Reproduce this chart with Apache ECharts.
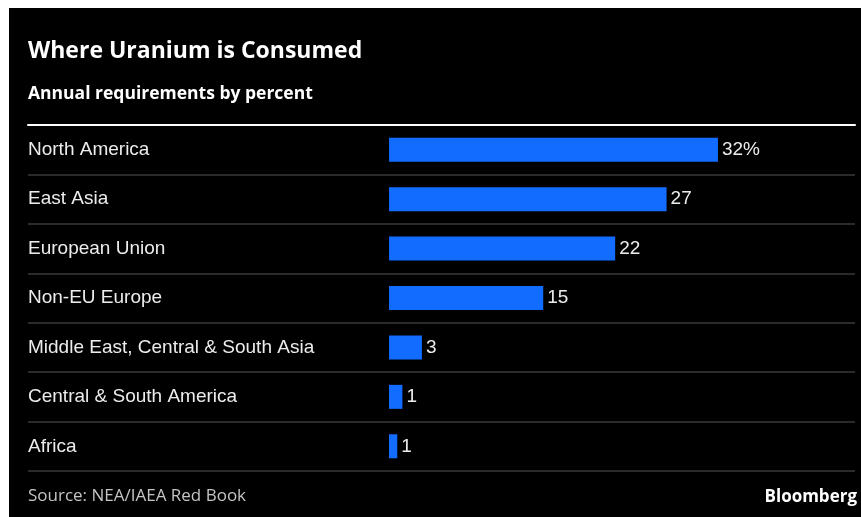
<!DOCTYPE html>
<html>
<head>
<meta charset="utf-8">
<script src="https://cdn.jsdelivr.net/npm/echarts@6/dist/echarts.min.js"></script>
<style>
  html, body { margin: 0; padding: 0; background: #000; }
  #chart { width: 861px; height: 517px; }
</style>
</head>
<body>
<div id="chart"></div>
<script>
const categories = ['North America', 'East Asia', 'European Union', 'Non-EU Europe', 'Middle East, Central & South Asia', 'Central & South America', 'Africa'];
const shares = [32, 27, 22, 15, 3.2, 1.3, 0.8];
const valueLabels = ['32%', '27', '22', '15', '3', '1', '1'];

const chart = echarts.init(document.getElementById('chart'));
chart.setOption({
  backgroundColor: '#000',
  animation: false,
  title: [
    { text: 'Where Uranium is Consumed', left: 28, top: 40, padding: 0,
      textStyle: { color: '#fff', fontFamily: 'Open Sans', fontWeight: 'bold', fontSize: 23 } },
    { text: 'Annual requirements by percent', left: 28, top: 85, padding: 0,
      textStyle: { color: '#fff', fontFamily: 'Open Sans', fontWeight: 'bold', fontSize: 17.5 } },
    { text: 'Source: NEA/IAEA Red Book', left: 28, top: 488, padding: 0,
      textStyle: { color: '#c4c4c4', fontFamily: 'Open Sans', fontWeight: 'normal', fontSize: 17 } },
    { text: 'Bloomberg', right: 4, top: 489, padding: 0,
      textStyle: { color: '#fff', fontFamily: 'Open Sans', fontWeight: 'bold', fontSize: 17 } }
  ],
  graphic: [
    { type: 'rect', z: 100, shape: { x: 0, y: 0, width: 861, height: 8 }, style: { fill: '#fff' } },
    { type: 'rect', z: 100, shape: { x: 0, y: 0, width: 9, height: 517 }, style: { fill: '#fff' } }
  ],
  grid: { left: 28, right: 6, top: 125, bottom: 46, containLabel: false },
  xAxis: {
    type: 'value', position: 'top', min: -35.12, max: 45.33,
    axisLine: { show: true, lineStyle: { color: '#fff', width: 2 } },
    axisTick: { show: false }, axisLabel: { show: false }, splitLine: { show: false }
  },
  yAxis: {
    type: 'category', inverse: true, data: categories,
    axisLine: { show: false }, axisTick: { show: false },
    axisLabel: { inside: true, margin: 0, color: '#ececec', fontFamily: 'Liberation Sans, Arial, sans-serif', fontSize: 19 },
    splitLine: { show: true, lineStyle: { color: '#3a3a3a', width: 1.5 } }
  },
  series: [{
    type: 'bar', data: shares, barWidth: 24,
    itemStyle: { color: '#126cff' },
    label: {
      show: true, position: 'right', distance: 4,
      color: '#ececec', fontFamily: 'Liberation Sans, Arial, sans-serif', fontSize: 19,
      formatter: p => valueLabels[p.dataIndex]
    }
  }]
});
</script>
</body>
</html>
